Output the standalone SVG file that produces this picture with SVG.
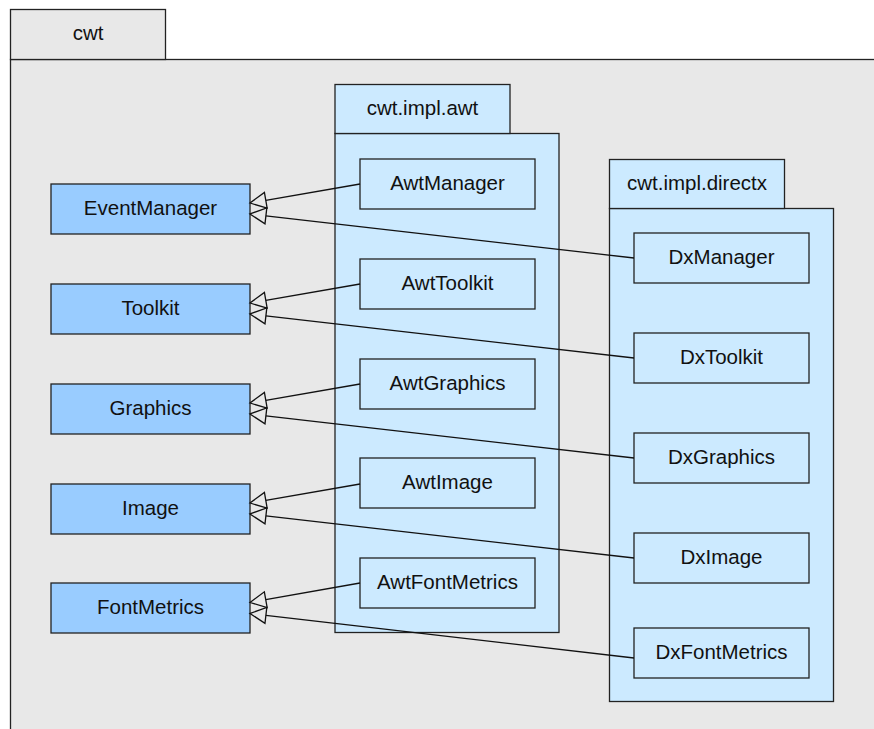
<svg xmlns="http://www.w3.org/2000/svg" width="874" height="729" viewBox="0 0 874 729">
<style>
text{font-family:"Liberation Sans",Arial,sans-serif;font-size:20.5px;fill:#111;text-anchor:middle;dominant-baseline:central}
.outer{fill:#e8e8e8;stroke:#222;stroke-width:1.3}
.pkg{fill:#cceaff;stroke:#222;stroke-width:1.3}
.cls{fill:#cceaff;stroke:#222;stroke-width:1.3}
.base{fill:#99ccff;stroke:#222;stroke-width:1.3}
.edge{fill:none;stroke:#111;stroke-width:1.3}
.head{fill:none;stroke:#111;stroke-width:1.3;stroke-linejoin:miter}
</style>
<rect width="874" height="729" fill="#ffffff"/>
<g id="pkg-cwt">
<rect class="outer" x="10.5" y="59.5" width="880" height="690"/>
<rect class="outer" x="10.5" y="9.5" width="155" height="50"/>
<text x="88" y="32.5">cwt</text>
</g>
<g id="pkg-awt">
<rect class="pkg" x="335" y="133.5" width="224" height="499"/>
<rect class="pkg" x="335" y="84.5" width="175" height="49"/>
<text x="422.5" y="107.5">cwt.impl.awt</text>
</g>
<g id="pkg-directx">
<rect class="pkg" x="609.5" y="208.5" width="224" height="493"/>
<rect class="pkg" x="609.5" y="159.5" width="175" height="49"/>
<text x="697" y="182.5">cwt.impl.directx</text>
</g>
<g id="EventManager"><rect class="base" x="51" y="184" width="199" height="50"/><text x="150.5" y="207.5">EventManager</text></g>
<g id="Toolkit"><rect class="base" x="51" y="284" width="199" height="50"/><text x="150.5" y="307.5">Toolkit</text></g>
<g id="Graphics"><rect class="base" x="51" y="384" width="199" height="50"/><text x="150.5" y="407.5">Graphics</text></g>
<g id="Image"><rect class="base" x="51" y="484" width="199" height="50"/><text x="150.5" y="507.5">Image</text></g>
<g id="FontMetrics"><rect class="base" x="51" y="583" width="199" height="50"/><text x="150.5" y="606.5">FontMetrics</text></g>
<g id="AwtManager"><rect class="cls" x="360" y="159" width="175" height="50"/><text x="447.5" y="182.5">AwtManager</text></g>
<g id="AwtToolkit"><rect class="cls" x="360" y="259" width="175" height="50"/><text x="447.5" y="282.5">AwtToolkit</text></g>
<g id="AwtGraphics"><rect class="cls" x="360" y="359" width="175" height="50"/><text x="447.5" y="382.5">AwtGraphics</text></g>
<g id="AwtImage"><rect class="cls" x="360" y="458" width="175" height="50"/><text x="447.5" y="481.5">AwtImage</text></g>
<g id="AwtFontMetrics"><rect class="cls" x="360" y="558" width="175" height="50"/><text x="447.5" y="581.5">AwtFontMetrics</text></g>
<g id="DxManager"><rect class="cls" x="634" y="233" width="175" height="50"/><text x="721.5" y="256.5">DxManager</text></g>
<g id="DxToolkit"><rect class="cls" x="634" y="333" width="175" height="50"/><text x="721.5" y="356.5">DxToolkit</text></g>
<g id="DxGraphics"><rect class="cls" x="634" y="433" width="175" height="50"/><text x="721.5" y="456.5">DxGraphics</text></g>
<g id="DxImage"><rect class="cls" x="634" y="533" width="175" height="50"/><text x="721.5" y="556.5">DxImage</text></g>
<g id="DxFontMetrics"><rect class="cls" x="634" y="628" width="175" height="50"/><text x="721.5" y="651.5">DxFontMetrics</text></g>
<g id="connectors">
<g id="row0">
<line class="edge" x1="360" y1="184" x2="265.77" y2="200.28"/>
<polygon class="head" points="250,203 267.13,208.16 264.41,192.40"/>
<line class="edge" x1="634" y1="258" x2="265.90" y2="215.82"/>
<polygon class="head" points="250,214 264.99,223.77 266.81,207.87"/>
</g>
<g transform="translate(0,100)">
<line class="edge" x1="360" y1="184" x2="265.77" y2="200.28"/>
<polygon class="head" points="250,203 267.13,208.16 264.41,192.40"/>
<line class="edge" x1="634" y1="258" x2="265.90" y2="215.82"/>
<polygon class="head" points="250,214 264.99,223.77 266.81,207.87"/>
</g>
<g transform="translate(0,200)">
<line class="edge" x1="360" y1="184" x2="265.77" y2="200.28"/>
<polygon class="head" points="250,203 267.13,208.16 264.41,192.40"/>
<line class="edge" x1="634" y1="258" x2="265.90" y2="215.82"/>
<polygon class="head" points="250,214 264.99,223.77 266.81,207.87"/>
</g>
<g transform="translate(0,300)">
<line class="edge" x1="360" y1="184" x2="265.77" y2="200.28"/>
<polygon class="head" points="250,203 267.13,208.16 264.41,192.40"/>
<line class="edge" x1="634" y1="258" x2="265.90" y2="215.82"/>
<polygon class="head" points="250,214 264.99,223.77 266.81,207.87"/>
</g>
<line class="edge" x1="360" y1="583" x2="265.75" y2="599.71"/>
<polygon class="head" points="250,602.5 267.15,607.59 264.35,591.83"/>
<line class="edge" x1="634" y1="658" x2="265.89" y2="615.34"/>
<polygon class="head" points="250,613.5 264.97,623.29 266.81,607.39"/>
</g>
</svg>
